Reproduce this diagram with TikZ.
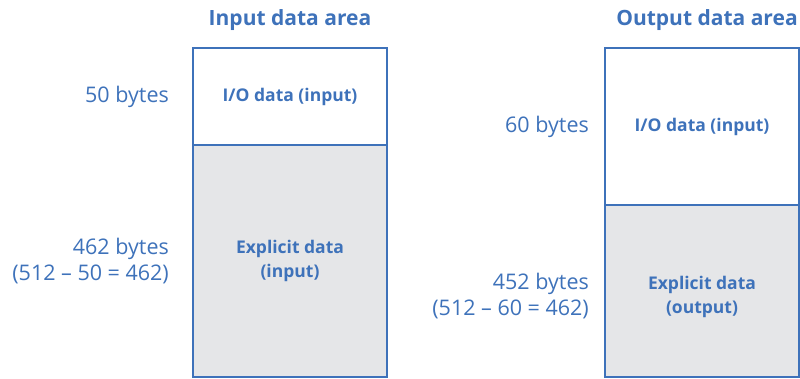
\documentclass[tikz,border=0pt]{standalone}
\usepackage{fontspec}
\setmainfont{Open Sans}
\usetikzlibrary{positioning}
\definecolor{geblue}{RGB}{62,114,186}
\definecolor{explgray}{RGB}{229,230,232}

\begin{document}
\begin{tikzpicture}[x=1pt,y=-1pt]
  \tikzset{boxtext/.style={text=geblue,align=center,font=\bfseries\fontsize{17.5}{24}\selectfont},
    part/.style={draw=geblue,line width=1.2pt,minimum width=194pt,inner sep=0pt,outer sep=0pt,boxtext},
    expl/.style={part,fill=explgray},
    size/.style={text=geblue,align=right,inner sep=0pt,font=\fontsize{21.5}{25.5}\selectfont},
    head/.style={text=geblue,inner sep=0pt,font=\bfseries\fontsize{21}{24}\selectfont}}
  \useasboundingbox (0,0) rectangle (800,379);

  % input area
  \node[part,minimum height=97pt] (ioin) at (290,96.5) {I/O data (input)};
  \node[expl,minimum height=232pt,below=0pt of ioin] (exin) {Explicit data\\(input)};
  \node[head,above=17pt of ioin] (inhead) {Input data area};
  \node[size,left=24pt of ioin] (ioinsize) {50 bytes};
  \node[size,left=24pt of exin] (exinsize) {462 bytes\\(512 – 50 = 462)};

  % output area
  \node[part,minimum height=157pt] (ioout) at (702,126.5) {I/O data (input)};
  \node[expl,minimum height=172pt,below=0pt of ioout,
    label={[boxtext,yshift=-6pt]center:Explicit data\\(output)}] (exout) {};
  \node[head,above=17pt of ioout,xshift=5pt] (outhead) {Output data area};
  \node[size,left=16pt of ioout] (iooutsize) {60 bytes};
  \node[size,left=16pt of exout,yshift=-5pt] (exoutsize) {452 bytes\\(512 – 60 = 462)};
\end{tikzpicture}
\end{document}
